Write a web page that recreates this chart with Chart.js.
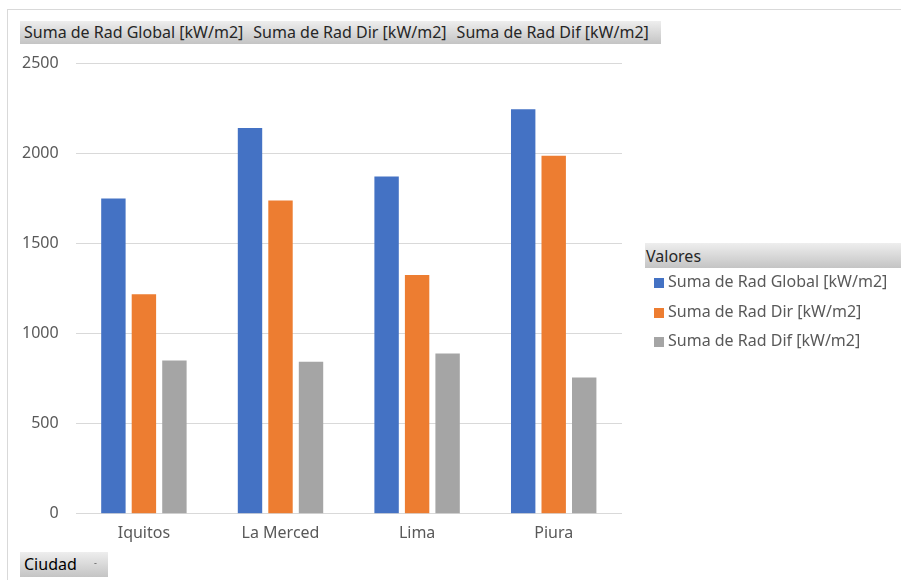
<!DOCTYPE html>
<html lang="es">
<head>
  <meta charset="UTF-8">
  <title>Radiación por ciudad</title>
  <script src="https://cdn.jsdelivr.net/npm/chart.js"></script>
  <style>
    body { margin: 0; background: #fff; font-family: "Noto Sans", sans-serif; }
    #wrap { position: relative; width: 901px; height: 580px; overflow: hidden; }
    #frame { position: absolute; left: 7px; top: 9px; width: 1000px; height: 700px; border-left: 1px solid #d9d9d9; border-top: 1px solid #d9d9d9; }
    canvas { position: absolute; left: 0; top: 0; }
    .btn { position: absolute; background: linear-gradient(#eeeeee, #c4c4c4); color: #262626; font-size: 16px; line-height: 23px; white-space: nowrap; }
    #campos { left: 20px; top: 21px; width: 641px; height: 23px; padding-left: 4px; box-sizing: border-box; }
    #campos span { margin-right: 10px; }
    #valores { left: 645px; top: 243px; width: 256px; height: 25px; line-height: 27px; padding-left: 1px; }
    #ciudad { left: 20px; top: 552px; width: 88px; height: 25px; line-height: 25px; color: #000; padding-left: 4px; box-sizing: border-box; }
    #ciudad i { font-style: normal; font-size: 9px; position: absolute; left: 74px; top: -2px; color: #555; }
    #leyenda { position: absolute; left: 654px; top: 270px; }
    .item { height: 29.5px; font-size: 16px; color: #595959; white-space: nowrap; }
    .item b { display: inline-block; width: 10px; height: 10px; margin-right: 4px; vertical-align: -1px; }
  </style>
</head>
<body>
  <div id="wrap">
    <div id="frame"></div>
    <canvas id="grafico" width="901" height="580"></canvas>
    <div id="campos" class="btn"></div>
    <div id="valores" class="btn">Valores</div>
    <div id="ciudad" class="btn">Ciudad<i>-</i></div>
    <div id="leyenda"></div>
  </div>

  <script>
    // datos
    const ciudades = ['Iquitos', 'La Merced', 'Lima', 'Piura'];
    const series = ['Suma de Rad Global [kW/m2]', 'Suma de Rad Dir [kW/m2]', 'Suma de Rad Dif [kW/m2]'];
    const radGlobal = [1748, 2140, 1870, 2243];
    const radDir = [1218, 1737, 1325, 1986];
    const radDif = [850, 843, 889, 756];
    const colores = ['#4472C4', '#ED7D31', '#A5A5A5'];

    const valores = [radGlobal, radDir, radDif];

    // botones de campos y leyenda
    document.getElementById('campos').innerHTML = series.map(s => '<span>' + s + '</span>').join('');
    document.getElementById('leyenda').innerHTML = series.map((s, i) =>
      '<div class="item"><b style="background:' + colores[i] + '"></b>' + s + '</div>').join('');

    const fuente = { family: '"Noto Sans", sans-serif', size: 16 };

    new Chart(document.getElementById('grafico'), {
      type: 'bar',
      data: {
        labels: ciudades,
        datasets: series.map((s, i) => ({
          label: s,
          data: valores[i],
          backgroundColor: colores[i],
          categoryPercentage: 0.67,
          barPercentage: 0.8
        }))
      },
      options: {
        responsive: false,
        animation: false,
        layout: { padding: { top: 63, left: 5, right: 279, bottom: 27 } },
        plugins: {
          legend: { display: false },
          tooltip: { enabled: false }
        },
        scales: {
          x: {
            grid: { display: false, drawTicks: false },
            border: { display: false },
            ticks: { color: '#595959', font: fuente, padding: 10 }
          },
          y: {
            min: 0,
            max: 2500,
            ticks: { stepSize: 500, color: '#595959', font: fuente, padding: 17, callback: v => String(v) },
            grid: { color: '#d9d9d9', drawTicks: false },
            border: { display: false }
          }
        }
      }
    });
  </script>
</body>
</html>
